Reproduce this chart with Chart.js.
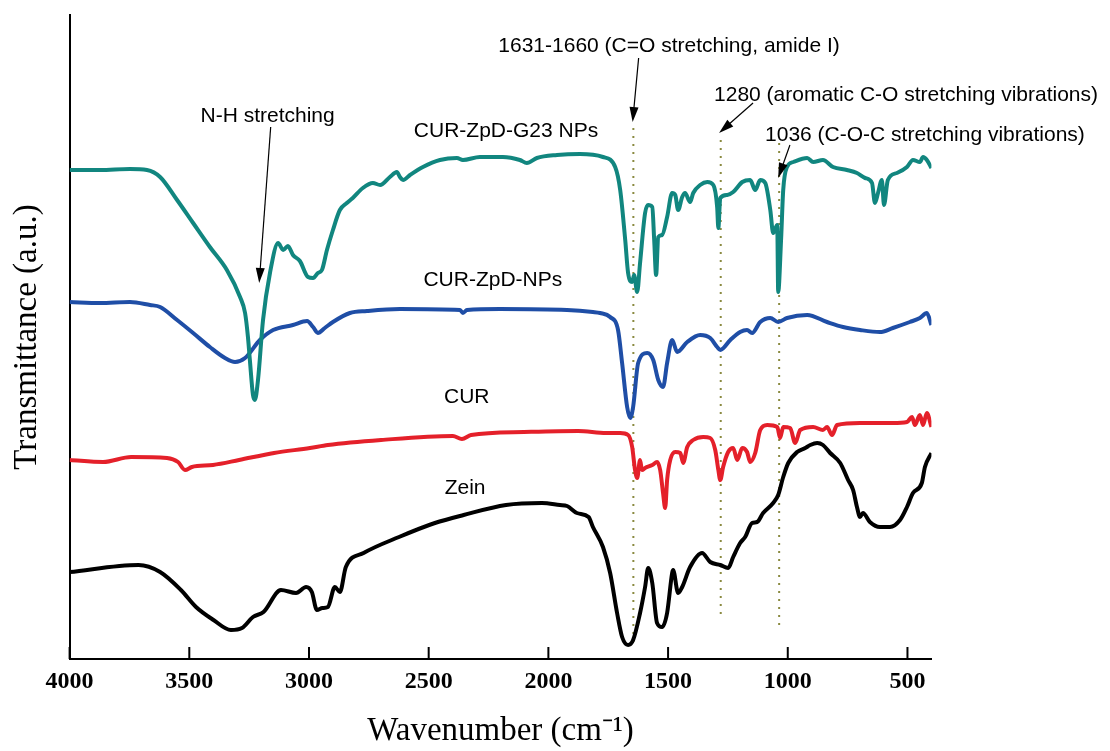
<!DOCTYPE html>
<html>
<head>
<meta charset="utf-8">
<script src="https://cdn.jsdelivr.net/npm/chart.js@4.4.0/dist/chart.umd.min.js"></script>
<style>
  html, body { margin: 0; padding: 0; background: #fff; }
</style>
</head>
<body>
<canvas id="ftir" width="1110" height="751"></canvas>
<script>
// FTIR spectra, [wavenumber (cm-1), transmittance (a.u., offset per trace)]
const curZpdG23 = [
  [4000,48.9],[3873,48.9],[3748,49.0],[3677,48.9],[3622,48.2],[3551,45.9],[3484,43.6],[3414,41.2],
  [3343,38.9],[3288,36.2],[3267,34.6],[3255,32.2],[3247,29.9],[3234,26.4],[3226,25.9],[3213,27.9],
  [3192,33.9],[3163,38.6],[3129,41.6],[3108,40.9],[3088,41.3],[3067,40.4],[3038,39.8],[3004,38.2],
  [2983,38.1],[2963,38.6],[2946,38.9],[2925,40.9],[2900,42.9],[2871,44.9],[2842,45.6],[2817,46.1],
  [2775,47.1],[2733,47.6],[2703,47.4],[2662,48.2],[2633,48.7],[2620,48.2],[2607,47.9],[2578,48.4],
  [2524,49.2],[2453,49.9],[2382,50.1],[2357,49.9],[2286,50.2],[2190,50.2],[2119,49.9],[2090,49.6],
  [2048,50.1],[1964,50.4],[1868,50.5],[1772,50.2],[1721,49.2],[1700,46.9],[1679,41.9],[1667,38.6],
  [1650,37.7],[1642,38.4],[1629,36.7],[1617,39.6],[1596,44.6],[1583,45.4],[1566,45.2],[1558,41.9],
  [1550,38.4],[1541,42.2],[1525,42.4],[1504,44.2],[1483,46.6],[1470,46.4],[1458,44.9],[1441,46.2],
  [1429,46.6],[1408,45.7],[1395,46.6],[1366,47.4],[1336,47.7],[1311,47.4],[1295,45.2],[1290,43.1],
  [1282,46.1],[1253,46.4],[1228,46.7],[1190,47.7],[1157,47.9],[1136,46.9],[1115,47.9],[1094,47.6],
  [1073,44.9],[1061,42.6],[1044,43.4],[1040,36.7],[1028,41.9],[1019,46.9],[1003,49.2],[977,49.7],
  [919,50.1],[894,49.7],[853,49.9],[811,49.2],[753,48.9],[711,48.6],[677,48.1],[648,47.6],
  [636,45.6],[623,46.6],[607,47.9],[598,45.4],[582,47.9],[544,48.6],[502,49.2],[477,49.9],
  [448,49.7],[435,50.2],[419,49.9],[400,49.1]
];
const curZpdNps = [
  [4000,35.7],[3873,35.6],[3748,35.7],[3664,35.4],[3622,35.2],[3551,33.9],[3484,32.6],[3414,31.2],
  [3351,30.1],[3309,29.7],[3267,30.1],[3205,31.9],[3150,32.9],[3067,33.4],[3008,33.8],[2983,33.2],
  [2963,32.6],[2934,33.1],[2900,33.7],[2829,34.6],[2758,34.8],[2620,35.0],[2369,34.9],[2357,34.6],
  [2340,34.9],[2202,35.0],[1922,34.9],[1814,34.7],[1784,34.6],[1742,34.2],[1709,32.9],[1692,29.6],
  [1671,25.2],[1658,24.1],[1646,25.2],[1625,29.6],[1587,30.6],[1562,29.9],[1541,27.9],[1521,27.2],
  [1504,29.6],[1483,31.9],[1462,30.7],[1420,31.7],[1366,32.4],[1324,32.1],[1295,31.2],[1282,30.9],
  [1240,31.9],[1199,32.7],[1170,32.9],[1149,32.6],[1115,33.7],[1073,34.1],[1040,33.7],[1003,34.1],
  [919,34.4],[836,33.7],[769,33.2],[698,32.9],[615,32.7],[561,33.1],[490,33.7],[448,34.1],
  [419,34.6],[400,33.4]
];
const cur = [
  [4000,19.9],[3860,19.7],[3743,20.2],[3593,20.1],[3547,19.7],[3518,18.9],[3489,19.2],[3401,19.4],
  [3292,19.9],[3146,20.6],[2996,21.1],[2921,21.4],[2699,21.9],[2399,22.3],[2361,22.0],[2323,22.4],
  [2102,22.7],[1876,22.8],[1759,22.6],[1700,22.6],[1667,22.4],[1650,21.2],[1638,18.9],[1629,18.1],
  [1617,19.9],[1609,18.9],[1596,19.1],[1566,19.4],[1546,19.7],[1533,18.9],[1521,16.6],[1512,15.1],
  [1504,17.9],[1491,19.9],[1470,20.7],[1449,20.6],[1437,19.6],[1420,21.2],[1395,21.9],[1353,22.2],
  [1324,22.1],[1303,20.9],[1290,18.9],[1282,17.9],[1270,19.2],[1249,20.7],[1228,21.1],[1211,19.9],
  [1190,21.1],[1170,20.7],[1157,19.7],[1136,20.6],[1115,22.9],[1086,23.4],[1044,23.2],[1032,22.1],
  [1019,23.2],[990,23.1],[969,21.6],[948,22.9],[894,23.2],[853,22.9],[836,23.2],[815,22.4],
  [794,23.4],[698,23.6],[561,23.6],[502,23.7],[481,24.2],[469,23.4],[448,24.4],[435,23.4],
  [419,24.6],[400,23.2]
];
const zein = [
  [4000,8.7],[3712,9.4],[3622,8.7],[3535,6.9],[3472,5.2],[3399,3.9],[3326,2.9],[3280,3.1],
  [3234,4.2],[3190,4.7],[3117,6.9],[3054,6.6],[3012,7.2],[2988,6.7],[2967,4.9],[2944,5.1],
  [2921,5.2],[2892,7.2],[2871,6.7],[2846,9.2],[2772,10.6],[2624,12.2],[2474,13.6],[2354,14.4],
  [2177,15.4],[2027,15.6],[1952,15.4],[1922,15.3],[1881,14.6],[1832,14.2],[1814,13.2],[1772,11.2],
  [1742,8.6],[1713,4.6],[1692,2.2],[1667,1.4],[1646,1.9],[1617,4.6],[1596,7.2],[1583,9.1],
  [1566,7.6],[1546,3.6],[1525,3.2],[1504,4.6],[1483,8.6],[1479,8.9],[1458,6.6],[1441,7.2],
  [1408,9.2],[1358,10.6],[1324,9.7],[1282,9.4],[1249,9.1],[1228,10.2],[1199,11.6],[1178,12.2],
  [1149,13.6],[1128,13.7],[1103,14.6],[1061,15.6],[1040,16.4],[1019,18.2],[998,19.6],[961,20.7],
  [927,21.1],[906,21.4],[877,21.6],[853,21.4],[823,20.6],[781,19.6],[748,17.9],[727,16.9],
  [711,15.2],[698,14.2],[686,14.6],[657,13.7],[615,13.2],[573,13.2],[531,13.9],[502,15.2],
  [477,16.6],[440,17.6],[427,19.2],[400,20.6]
];

// marker bands (dotted guide lines): wavenumber, top and bottom of the line
const bandWn = [1645, 1280, 1036];
const bandTop = [53.1, 51.9, 51.6];
const bandBottom = [1.6, 3.9, 3.4];

const xTicks = [4000, 3500, 3000, 2500, 2000, 1500, 1000, 500];

// text labels placed in data coordinates
const notes = [
  { text: 'N-H stretching', wn: 3173, t: 54.3 },
  { text: 'CUR-ZpD-G23 NPs', wn: 2177, t: 52.8 },
  { text: 'CUR-ZpD-NPs', wn: 2232, t: 37.9 },
  { text: 'CUR', wn: 2341, t: 26.2 },
  { text: 'Zein', wn: 2348, t: 17.1 },
  { text: '1631-1660 (C=O stretching, amide I)', wn: 1496, t: 61.3 },
  { text: '1280 (aromatic C-O stretching vibrations)', wn: 506, t: 56.4 },
  { text: '1036 (C-O-C stretching vibrations)', wn: 427, t: 52.4 }
];
const arrows = [
  { from: [3160, 53.2], to: [3208, 37.6] },
  { from: [1623, 60.1], to: [1648, 53.7] },
  { from: [1145, 55.6], to: [1287, 52.6] },
  { from: [991, 51.4], to: [1040, 48.1] }
];

const toPts = arr => arr.map(p => ({ x: p[0], y: p[1] }));

function traceSet(label, arr, color) {
  return {
    label,
    data: toPts(arr),
    borderColor: color,
    borderWidth: 4,
    pointRadius: 0,
    cubicInterpolationMode: 'monotone',
    order: 1
  };
}

const guideSets = bandWn.map((w, i) => ({
  label: 'band ' + w,
  data: [{ x: w, y: bandTop[i] }, { x: w, y: bandBottom[i] }],
  borderColor: '#8a8a40',
  borderWidth: 2,
  borderDash: [2, 6],
  pointRadius: 0,
  order: 5
}));

function drawArrow(ctx, x1, y1, x2, y2) {
  const a = Math.atan2(y2 - y1, x2 - x1);
  const len = 15, half = 4.5;
  ctx.beginPath();
  ctx.moveTo(x1, y1);
  ctx.lineTo(x2 - Math.cos(a) * len * 0.8, y2 - Math.sin(a) * len * 0.8);
  ctx.stroke();
  ctx.beginPath();
  ctx.moveTo(x2, y2);
  ctx.lineTo(x2 - len * Math.cos(a) + half * Math.sin(a), y2 - len * Math.sin(a) - half * Math.cos(a));
  ctx.lineTo(x2 - len * Math.cos(a) - half * Math.sin(a), y2 - len * Math.sin(a) + half * Math.cos(a));
  ctx.closePath();
  ctx.fill();
}

// inward tick marks on the x axis + text labels and arrows
const annotations = {
  id: 'annotations',
  afterDraw(chart) {
    const { ctx, chartArea, scales: { x, y } } = chart;
    ctx.save();
    ctx.strokeStyle = '#000';
    ctx.lineWidth = 2;
    x.ticks.forEach(t => {
      const px = x.getPixelForValue(t.value);
      ctx.beginPath();
      ctx.moveTo(px, chartArea.bottom);
      ctx.lineTo(px, chartArea.bottom - 12);
      ctx.stroke();
    });

    ctx.fillStyle = '#000';
    ctx.font = '21px "Liberation Sans", Arial, sans-serif';
    ctx.textAlign = 'center';
    ctx.textBaseline = 'middle';
    notes.forEach(n => ctx.fillText(n.text, x.getPixelForValue(n.wn), y.getPixelForValue(n.t)));

    ctx.lineWidth = 1.2;
    arrows.forEach(a => drawArrow(ctx,
      x.getPixelForValue(a.from[0]), y.getPixelForValue(a.from[1]),
      x.getPixelForValue(a.to[0]), y.getPixelForValue(a.to[1])));
    ctx.restore();
  }
};

new Chart(document.getElementById('ftir'), {
  type: 'line',
  data: {
    datasets: [
      ...guideSets,
      traceSet('CUR-ZpD-G23 NPs', curZpdG23, '#11867f'),
      traceSet('CUR-ZpD-NPs', curZpdNps, '#1f4ea6'),
      traceSet('CUR', cur, '#e4202a'),
      traceSet('Zein', zein, '#000000')
    ]
  },
  options: {
    responsive: false,
    animation: false,
    devicePixelRatio: 1,
    layout: { padding: { top: 15, right: 178.6, bottom: 0, left: 0 } },
    plugins: { legend: { display: false }, tooltip: { enabled: false } },
    scales: {
      x: {
        type: 'linear',
        reverse: true,
        min: 400,
        max: 4000,
        afterBuildTicks: s => { s.ticks = xTicks.map(v => ({ value: v })); },
        afterFit: s => { s.height = 92; },
        grid: { display: false, drawTicks: false },
        border: { display: true, color: '#000', width: 2 },
        ticks: {
          autoSkip: false,
          maxRotation: 0,
          padding: 8,
          color: '#000',
          callback: v => String(v),
          font: { family: '"Liberation Serif", "Times New Roman", serif', size: 24, weight: 'bold' }
        },
        title: {
          display: true,
          text: 'Wavenumber (cm\u207B\u00B9)',
          color: '#000',
          padding: { top: 0, bottom: 0 },
          font: { family: '"Liberation Serif", "Times New Roman", serif', size: 33 }
        }
      },
      y: {
        min: 0,
        max: 64.4,
        afterFit: s => { s.width = 69.6; },
        grid: { display: false, drawTicks: false },
        border: { display: true, color: '#000', width: 2 },
        ticks: { display: false },
        title: {
          display: true,
          text: 'Transmittance (a.u.)',
          color: '#000',
          padding: { top: 8, bottom: 0 },
          font: { family: '"Liberation Serif", "Times New Roman", serif', size: 33 }
        }
      }
    }
  },
  plugins: [annotations]
});
</script>
</body>
</html>
